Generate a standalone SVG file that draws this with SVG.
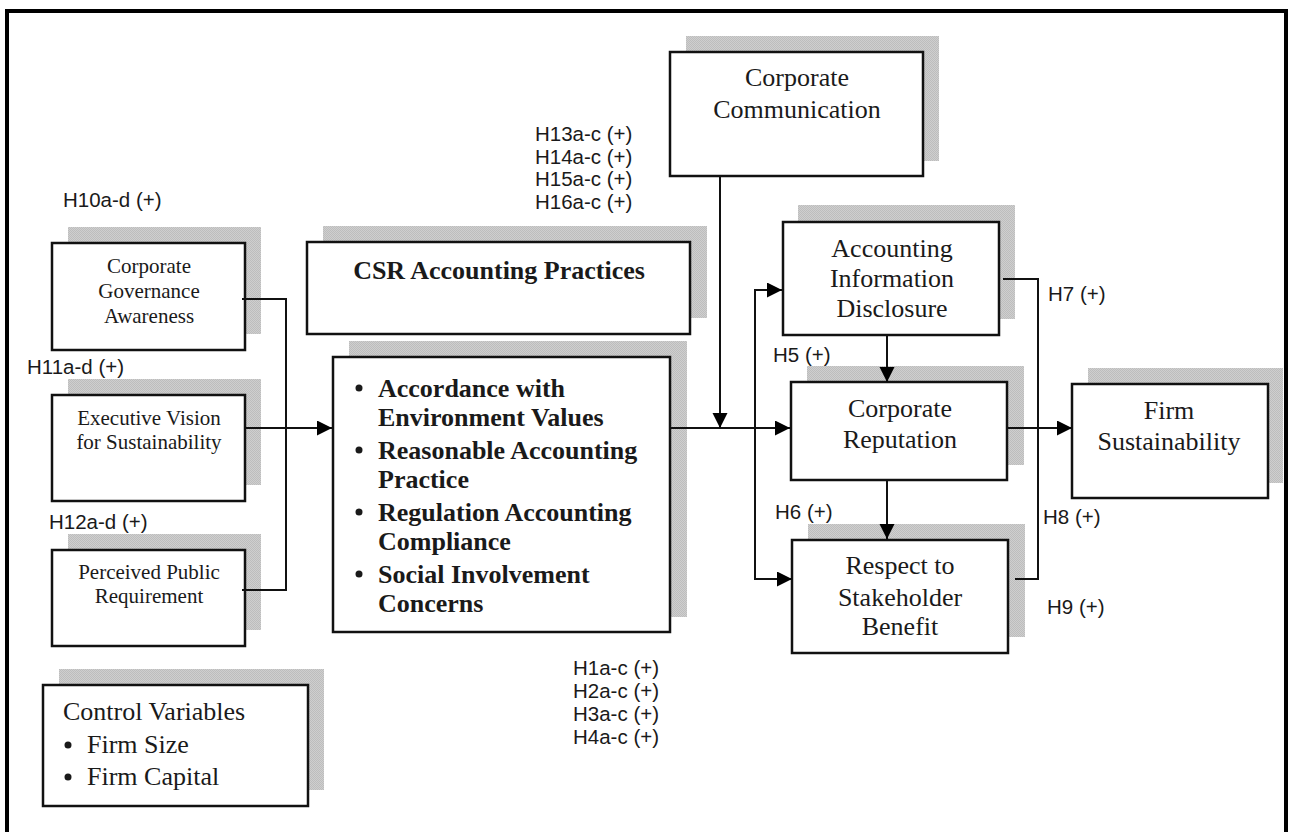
<svg xmlns="http://www.w3.org/2000/svg" width="1289" height="832" viewBox="0 0 1289 832">
<style>
.box{fill:#fff;stroke:#111;stroke-width:2.5}
.sh{fill:url(#dots);stroke:none}
.t{font-family:"Liberation Serif","Times New Roman",serif;fill:#1a1a1a;text-anchor:middle}
.t21{font-size:21px}
.t26{font-size:26px}
.b{font-family:"Liberation Serif","Times New Roman",serif;font-weight:bold;font-size:26px;fill:#1a1a1a}
.lbl{font-family:"Liberation Sans",Arial,sans-serif;font-size:20.5px;fill:#1a1a1a}
.con{fill:none;stroke:#111;stroke-width:2}
</style>
<defs>
<pattern id="dots" width="2" height="2" patternUnits="userSpaceOnUse">
<rect width="2" height="2" fill="#cfcfcf"/>
<rect width="1" height="1" fill="#bdbdbd"/>
<rect x="1" y="1" width="1" height="1" fill="#bdbdbd"/>
</pattern>
<marker id="arr" markerUnits="userSpaceOnUse" markerWidth="16" markerHeight="16" refX="15" refY="7.5" orient="auto-start-reverse">
<path d="M0,0 L15,7.5 L0,15 z" fill="#000"/>
</marker>
</defs>
<rect width="1289" height="832" fill="#fff"/>
<path d="M7,832 V11 H1286 V832" fill="none" stroke="#000" stroke-width="4"/>

<g id="cga">
<rect class="sh" x="68" y="227" width="193" height="107"/>
<rect class="box" x="52" y="243" width="193" height="107"/>
<text class="t t21" x="149" y="273">Corporate</text>
<text class="t t21" x="149" y="298">Governance</text>
<text class="t t21" x="149" y="323">Awareness</text>
</g>
<g id="evs">
<rect class="sh" x="68" y="379" width="193" height="106"/>
<rect class="box" x="52" y="395" width="193" height="106"/>
<text class="t t21" x="149" y="425">Executive Vision</text>
<text class="t t21" x="149" y="449">for Sustainability</text>
</g>
<g id="ppr">
<rect class="sh" x="68" y="534" width="193" height="96"/>
<rect class="box" x="52" y="550" width="193" height="96"/>
<text class="t t21" x="149" y="579">Perceived Public</text>
<text class="t t21" x="149" y="603">Requirement</text>
</g>
<g id="ctrl">
<rect class="sh" x="59" y="669" width="265" height="121"/>
<rect class="box" x="43" y="685" width="265" height="121"/>
<text class="t" style="text-anchor:start;font-size:26px" x="63" y="720">Control Variables</text>
<circle cx="68" cy="745" r="3.5" fill="#1a1a1a"/>
<text class="t" style="text-anchor:start;font-size:26px" x="87" y="753">Firm Size</text>
<circle cx="68" cy="777" r="3.5" fill="#1a1a1a"/>
<text class="t" style="text-anchor:start;font-size:26px" x="87" y="785">Firm Capital</text>
</g>
<g id="csr">
<rect class="sh" x="323" y="226" width="384" height="92"/>
<rect class="box" x="307" y="242" width="383" height="92"/>
<text class="b" x="499" y="279" text-anchor="middle">CSR Accounting Practices</text>
</g>
<g id="csrlist">
<rect class="sh" x="349" y="341" width="338" height="276"/>
<rect class="box" x="333" y="357" width="337" height="275"/>
<circle cx="359" cy="388" r="3.5" fill="#1a1a1a"/>
<text class="b" x="378" y="397">Accordance with</text>
<text class="b" x="378" y="426">Environment Values</text>
<circle cx="359" cy="450" r="3.5" fill="#1a1a1a"/>
<text class="b" x="378" y="459">Reasonable Accounting</text>
<text class="b" x="378" y="488">Practice</text>
<circle cx="359" cy="512" r="3.5" fill="#1a1a1a"/>
<text class="b" x="378" y="521">Regulation Accounting</text>
<text class="b" x="378" y="550">Compliance</text>
<circle cx="359" cy="574" r="3.5" fill="#1a1a1a"/>
<text class="b" x="378" y="583">Social Involvement</text>
<text class="b" x="378" y="612">Concerns</text>
</g>
<g id="cc">
<rect class="sh" x="686" y="36" width="253" height="125"/>
<rect class="box" x="670" y="52" width="253" height="124"/>
<text class="t t26" x="797" y="86">Corporate</text>
<text class="t t26" x="797" y="118">Communication</text>
</g>
<g id="aid">
<rect class="sh" x="798" y="205" width="217" height="114"/>
<rect class="box" x="783" y="222" width="216" height="113"/>
<text class="t t26" x="892" y="257">Accounting</text>
<text class="t t26" x="892" y="287">Information</text>
<text class="t t26" x="892" y="317">Disclosure</text>
</g>
<g id="cr">
<rect class="sh" x="807" y="366" width="217" height="99"/>
<rect class="box" x="791" y="382" width="216" height="98"/>
<text class="t t26" x="900" y="417">Corporate</text>
<text class="t t26" x="900" y="448">Reputation</text>
</g>
<g id="rsb">
<rect class="sh" x="808" y="524" width="217" height="113"/>
<rect class="box" x="792" y="540" width="216" height="113"/>
<text class="t t26" x="900" y="574">Respect to</text>
<text class="t t26" x="900" y="606">Stakeholder</text>
<text class="t t26" x="900" y="635">Benefit</text>
</g>
<g id="fs">
<rect class="sh" x="1088" y="368" width="195" height="115"/>
<rect class="box" x="1072" y="384" width="196" height="114"/>
<text class="t t26" x="1169" y="419">Firm</text>
<text class="t t26" x="1169" y="450">Sustainability</text>
</g>

<g id="connectors">
<path class="con" d="M242,299 H286 V590 H242"/>
<path class="con" d="M245,428 H332" marker-end="url(#arr)"/>
<path class="con" d="M670,428 H790" marker-end="url(#arr)"/>
<path class="con" d="M720,176 V428" marker-end="url(#arr)"/>
<path class="con" d="M782,290 H755 V579 H792" marker-start="url(#arr)" marker-end="url(#arr)"/>
<path class="con" d="M887,335 V382" marker-end="url(#arr)"/>
<path class="con" d="M887,480 V539" marker-end="url(#arr)"/>
<path class="con" d="M1007,428 H1072" marker-end="url(#arr)"/>
<path class="con" d="M1003,279 H1038 V579 H1015"/>
</g>

<g id="labels">
<text class="lbl" x="63" y="207">H10a-d (+)</text>
<text class="lbl" x="27" y="374">H11a-d (+)</text>
<text class="lbl" x="49" y="529">H12a-d (+)</text>
<text class="lbl" x="535" y="141">H13a-c (+)</text>
<text class="lbl" x="535" y="163.5">H14a-c (+)</text>
<text class="lbl" x="535" y="186">H15a-c (+)</text>
<text class="lbl" x="535" y="208.5">H16a-c (+)</text>
<text class="lbl" x="573" y="675">H1a-c (+)</text>
<text class="lbl" x="573" y="698">H2a-c (+)</text>
<text class="lbl" x="573" y="721">H3a-c (+)</text>
<text class="lbl" x="573" y="744">H4a-c (+)</text>
<text class="lbl" x="773" y="362">H5 (+)</text>
<text class="lbl" x="775" y="519">H6 (+)</text>
<text class="lbl" x="1048" y="301">H7 (+)</text>
<text class="lbl" x="1043" y="524">H8 (+)</text>
<text class="lbl" x="1047" y="614">H9 (+)</text>
</g>
</svg>
